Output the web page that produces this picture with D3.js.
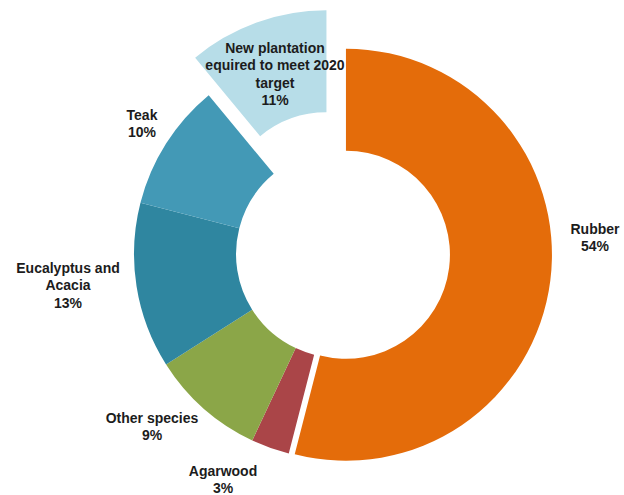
<!DOCTYPE html>
<html>
<head>
<meta charset="utf-8">
<script src="https://d3js.org/d3.v7.min.js"></script>
<style>
  html, body { margin: 0; padding: 0; background: #fff; }
  svg { display: block; }
  text { font-family: "Liberation Sans", Arial, sans-serif; font-weight: 700; font-size: 14px; fill: #1c1c1c; }
</style>
</head>
<body>
<svg id="chart" width="624" height="495"></svg>
<script>
// ── Data ──
const categories = ['Rubber', 'Agarwood', 'Other species', 'Eucalyptus and Acacia', 'Teak', 'New plantation equired to meet 2020 target'];
const shares = [54, 3, 9, 13, 10, 11];

// ── Style ──
const colors = ['#E46C0A', '#AA4548', '#8BA648', '#2F86A0', '#4399B6', '#B7DDE8'];
const explode = [6, 0, 0, 0, 0, 40];
// label lines and where each label sits (Excel labels were dragged by hand)
const labelLines = [
  ['Rubber', '54%'],
  ['Agarwood', '3%'],
  ['Other species', '9%'],
  ['Eucalyptus and', 'Acacia', '13%'],
  ['Teak', '10%'],
  ['New plantation', 'equired to meet 2020', 'target', '11%']
];
const labelPos = [[595, 229], [223, 471], [152, 418], [68, 268], [142, 115], [275, 48]];
const lineH = 17.5;

const cx = 340, cy = 254, R = 206, r = 104;

const svg = d3.select('#chart');
const g = svg.append('g').attr('transform', `translate(${cx},${cy})`);

const pie = d3.pie().sort(null).value(d => d).startAngle(0).endAngle(2 * Math.PI);
const arc = d3.arc().innerRadius(r).outerRadius(R);
const arcs = pie(shares);

g.selectAll('path').data(arcs).enter().append('path')
  .attr('d', arc)
  .attr('fill', (d, i) => colors[i])
  .attr('transform', (d, i) => {
    const a = (d.startAngle + d.endAngle) / 2;
    return `translate(${explode[i] * Math.sin(a)},${-explode[i] * Math.cos(a)})`;
  });

// Labels
labelLines.forEach((lines, i) => {
  const t = svg.append('text').attr('text-anchor', 'middle')
    .attr('x', labelPos[i][0]).attr('y', labelPos[i][1]);
  lines.forEach((s, j) => {
    t.append('tspan').attr('x', labelPos[i][0]).attr('dy', j === 0 ? '0.35em' : lineH).text(s);
  });
});
</script>
</body>
</html>
